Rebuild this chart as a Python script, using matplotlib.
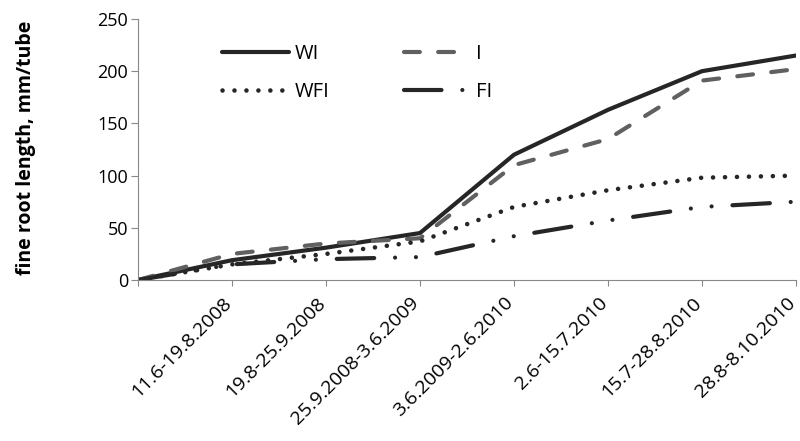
import matplotlib.pyplot as plt
import matplotlib.transforms as mtransforms
import numpy as np

periods = ["", "11.6-19.8.2008", "19.8-25.9.2008", "25.9.2008-3.6.2009",
           "3.6.2009-2.6.2010", "2.6-15.7.2010", "15.7-28.8.2010", "28.8-8.10.2010"]
wi = [0, 19, 31, 45, 120, 163, 200, 215]
i_vals = [0, 25, 35, 40, 110, 135, 191, 202]
wfi = [0, 15, 25, 37, 70, 86, 98, 100]
fi = [0, 15, 20, 22, 42, 57, 70, 75]

plt.rcParams['font.family'] = ['Open Sans', 'DejaVu Sans']

fig = plt.figure(figsize=(8, 4.41), dpi=100)
ax = fig.add_axes([0.1725, 0.365, 0.8225, 0.592])

x = np.arange(len(periods))
lw = 3.0
dark = "#262626"
h_wi, = ax.plot(x, wi, color=dark, lw=lw, label="WI", solid_capstyle="round")
h_i, = ax.plot(x, i_vals, color="#606060", lw=lw, dashes=(3.8, 4.4),
               dash_capstyle="round", label="I")
h_wfi, = ax.plot(x, wfi, color=dark, lw=3.3, dashes=(0.01, 2.6),
                 dash_capstyle="round", label="WFI")
h_fi, = ax.plot(x, fi, color=dark, lw=lw, dashes=(9, 5, 0.01, 5, 0.01, 5),
                dash_capstyle="round", label="FI")

ax.set_xlim(0, 7)
ax.set_ylim(0, 250)
ax.set_yticks(range(0, 251, 50))
ax.set_xticks(x)
ax.set_xticklabels(periods, rotation=45, ha="right", va="baseline",
                   rotation_mode="anchor", fontsize=14)
shift = mtransforms.ScaledTranslation(3 / 100, 0, fig.dpi_scale_trans)
for lbl in ax.get_xticklabels():
    lbl.set_transform(lbl.get_transform() + shift)
ax.tick_params(axis="y", labelsize=13, length=5, color="#888888", pad=2)
ax.tick_params(axis="x", length=4, color="#888888", direction="out", pad=13)
ax.spines["top"].set_visible(False)
ax.spines["right"].set_visible(False)
ax.spines["left"].set_color("#888888")
ax.spines["bottom"].set_color("#888888")
ax.set_ylabel("fine root length, mm/tube", fontsize=14, fontweight="bold")
ax.yaxis.set_label_coords(-0.155, 0.505)

ax.legend([h_wi, h_wfi, h_i, h_fi], ["WI", "WFI", "I", "FI"], ncol=2, frameon=False,
          loc="upper left", bbox_to_anchor=(0.128, 0.905), borderaxespad=0, borderpad=0,
          handlelength=3.3, handletextpad=0.3, columnspacing=3.7, fontsize=14.5,
          labelspacing=0.9)

fig.savefig("out.png", dpi=100)
